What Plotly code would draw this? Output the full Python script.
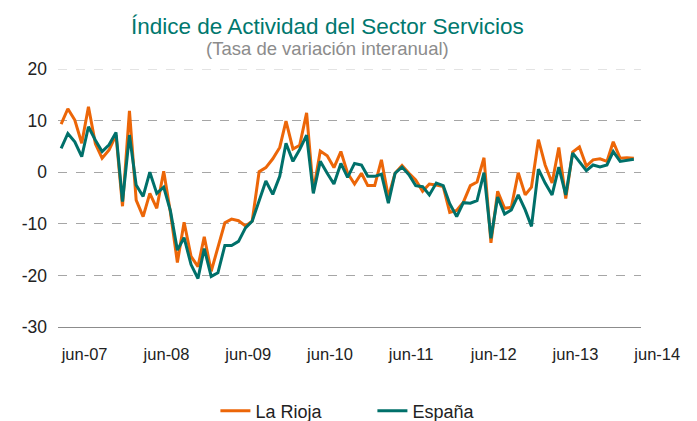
import pandas as pd
import plotly.graph_objects as go

# monthly series, jun-2007 .. jun-2014
meses = pd.date_range("2007-06-01", periods=85, freq="MS")

la_rioja = [9.3, 12.3, 10.1, 5.6, 12.7, 5.5, 2.7, 4.3, 7.2, -6.6,
            11.9, -5.4, -8.6, -4.1, -7.0, 0.2, -7.8, -17.5, -9.7, -16.3,
            -18.3, -12.5, -19.2, -14.6, -9.8, -9.1, -9.4, -10.4, -9.5, 0.1,
            0.9, 2.6, 4.8, 9.9, 4.5, 5.2, 11.5, -3.7, 4.1, 3.2,
            0.9, 4.0, -0.2, -2.3, -0.2, -2.6, -2.6, 2.4, -4.8, -0.2,
            1.3, -0.2, -1.5, -3.7, -2.3, -2.5, -2.8, -7.8, -7.4, -5.8,
            -2.6, -1.9, 2.8, -13.7, -3.7, -7.0, -6.8, -0.1, -4.4, -2.9,
            6.3, 1.4, -2.1, 4.8, -5.1, 3.9, 4.9, 1.2, 2.4, 2.6,
            2.1, 5.9, 2.7, 2.8, 2.7]

espana = [4.6, 7.5, 5.9, 3.0, 8.8, 6.2, 4.0, 5.3, 7.7, -5.7,
          7.2, -2.5, -4.7, 0.0, -4.1, -2.9, -7.5, -15.1, -12.7, -17.9,
          -20.6, -14.8, -20.2, -19.5, -14.2, -14.2, -13.4, -10.8, -9.5, -5.6,
          -1.7, -4.3, -0.8, 5.6, 2.1, 4.4, 7.2, -4.1, 2.1, -0.2,
          -2.3, 1.7, -1.0, 1.7, 1.4, -0.8, -0.8, -0.4, -6.0, -0.2,
          1.0, -0.5, -2.6, -2.8, -4.4, -2.1, -2.6, -6.1, -8.6, -5.9,
          -6.0, -5.5, -0.1, -12.8, -4.8, -8.1, -7.3, -4.4, -7.3, -10.5,
          0.6, -2.1, -4.4, 1.0, -4.4, 3.7, 2.1, 0.3, 1.4, 1.0,
          1.4, 4.0, 2.1, 2.3, 2.5]

tick_fechas = pd.date_range("2007-06-01", periods=8, freq="12MS")
tick_textos = ["jun-07", "jun-08", "jun-09", "jun-10", "jun-11", "jun-12", "jun-13", "jun-14"]
y_ticks = [-30, -20, -10, 0, 10, 20]
y_textos = ["-30", "-20", "-10", "0", "10", "20"]
y_grid = [-20, -10, 0, 10]

fuente = "Liberation Sans, Arial, sans-serif"

fig = go.Figure()
fig.add_trace(go.Scatter(x=meses, y=la_rioja, mode="lines", name="La Rioja",
                         line=dict(color="#EC6608", width=3)))
fig.add_trace(go.Scatter(x=meses, y=espana, mode="lines", name="España",
                         line=dict(color="#00706A", width=3)))

# light top gridline
fig.add_shape(type="line", xref="paper", yref="y", x0=0, x1=1, y0=20, y1=20,
              line=dict(color="#DADADA", width=1.5, dash="dash"), layer="below")

# plot area spans 258 px (y=69..327 in the page)
fig.add_annotation(text="Índice de Actividad del Sector Servicios",
                   xref="paper", yref="paper", x=0.463, y=(327 - 27) / 258,
                   xanchor="center", yanchor="middle", showarrow=False,
                   font=dict(family=fuente, size=22.5, color="#00786E"))
fig.add_annotation(text="(Tasa de variación interanual)",
                   xref="paper", yref="paper", x=0.463, y=(327 - 48) / 258,
                   xanchor="center", yanchor="middle", showarrow=False,
                   font=dict(family=fuente, size=18.5, color="#8C8C8C"))

fig.update_layout(
    width=697, height=421,
    margin=dict(l=58, r=56, t=69, b=94),
    paper_bgcolor="white", plot_bgcolor="white",
    font=dict(family=fuente, size=16, color="#222222"),
    showlegend=True,
    legend=dict(orientation="h", x=0.27, xanchor="left",
                yref="container", y=10 / 421, yanchor="middle",
                font=dict(size=18, color="#222222"),
                itemwidth=30, entrywidth=112, entrywidthmode="pixels"),
)
fig.update_xaxes(
    range=["2007-05-18", "2014-07-03"],
    tickvals=tick_fechas, ticktext=tick_textos,
    ticklabelposition="outside right", ticklabelstandoff=12,
    showgrid=False, showline=True, linecolor="#8C8C8C", linewidth=1,
    ticks="", tickfont=dict(size=16.5), automargin=False,
)
fig.update_yaxes(
    range=[-30, 20], tickvals=y_ticks, ticktext=y_textos,
    showgrid=False, zeroline=False, ticks="", tickfont=dict(size=17.5),
    ticklabelstandoff=10, automargin=False,
    minor=dict(tickvals=y_grid, showgrid=True, gridcolor="#A6A6A6",
               griddash="dash", gridwidth=1, ticks=""),
)

# drop the browser's default body margin so the figure fills the window
fig.write_html("out.html", config={"displayModeBar": False},
               post_script="document.body.style.margin='0';")
